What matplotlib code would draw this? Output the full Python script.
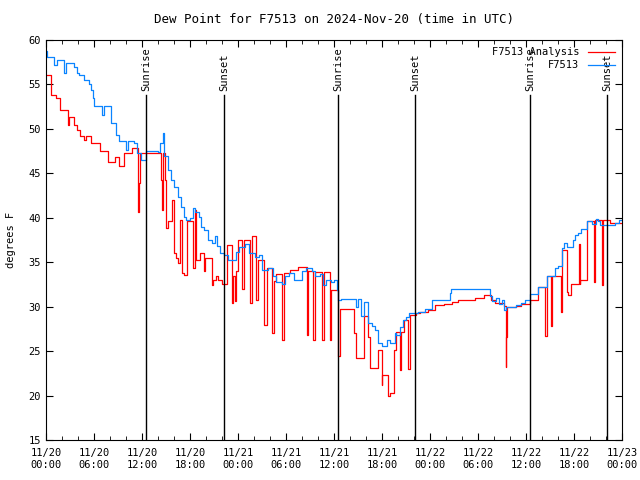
import matplotlib
matplotlib.use("Agg")
import matplotlib.pyplot as plt
from matplotlib.ticker import MultipleLocator

#Data (hours since 11/20 00:00 UTC, degrees F)
analysis_t = [0.0, 0.67, 1.2, 1.75, 2.7, 2.85, 3.5, 3.9, 4.3, 4.7, 5.0, 5.6, 6.75, 7.7, 8.6, 9.1,
              9.7, 10.8, 11.5, 11.6, 11.8, 14.4, 14.55, 14.65, 14.9, 15.05, 15.3, 15.7, 16.0,
              16.25, 16.5, 16.75, 16.95, 17.2, 17.6, 18.4, 18.6, 18.8, 19.25, 19.7, 19.9, 20.7,
              20.9, 21.3, 21.5, 21.95, 22.6, 23.2, 23.4, 23.6, 23.8, 24.0, 24.5, 24.7, 25.5,
              25.7, 26.3, 26.5, 27.3, 27.6, 28.2, 28.5, 28.7, 29.5, 29.7, 30.5, 31.5, 32.6,
              32.8, 33.4, 33.6, 34.5, 34.7, 35.5, 35.6, 36.5, 36.7, 38.5, 38.8, 39.7, 40.2,
              40.5, 41.5, 41.95, 42.05, 42.8, 43.0, 43.5, 43.8, 44.2, 44.4, 44.7, 45.3, 45.5,
              46.3, 46.75, 47.8, 48.6, 49.7, 50.7, 51.5, 53.6, 54.7, 55.6, 56.1, 57.2, 57.45,
              57.55, 57.65, 58.8, 59.4, 59.9, 60.5, 61.5, 62.4, 62.6, 63.1, 63.3, 64.4, 64.55,
              65.1, 65.3, 65.6, 66.6, 66.7, 66.8, 67.6, 68.45, 68.6, 69.45, 69.6, 70.5, 72.0]
analysis_v = [56.1, 53.8, 53.5, 52.1, 50.4, 51.3, 50.4, 49.9, 49.2, 48.75, 49.2, 48.4, 47.5, 46.3,
              46.8, 45.8, 47.3, 47.8, 40.6, 43.9, 47.3, 44.25, 40.9, 47.3, 44.25, 38.85, 39.6,
              42.0, 36.0, 35.5, 34.9, 39.75, 33.8, 33.6, 39.6, 34.4, 40.9, 35.25, 36.0, 34.0,
              35.5, 32.4, 33.0, 33.4, 33.0, 32.6, 36.9, 30.4, 33.5, 30.6, 34.0, 37.5, 32.0, 37.5,
              30.4, 37.9, 30.8, 35.25, 27.9, 34.3, 27.0, 32.9, 33.7, 26.25, 33.8, 34.1, 34.5,
              26.8, 34.0, 26.2, 33.9, 26.2, 33.9, 26.2, 31.9, 24.4, 29.7, 27.0, 24.2, 28.9, 26.6,
              23.1, 25.1, 21.2, 22.3, 19.9, 20.3, 25.1, 27.2, 22.9, 27.2, 28.5, 23.0, 29.1, 29.3,
              29.4, 29.6, 30.2, 30.3, 30.5, 30.8, 31.0, 31.3, 30.8, 30.4, 30.1, 23.25, 26.6, 30.0,
              30.1, 30.3, 30.3, 30.75, 32.2, 26.7, 33.4, 27.8, 33.4, 29.4, 36.4, 31.7, 31.3,
              32.6, 37.0, 32.6, 33.0, 39.6, 32.8, 39.75, 32.4, 39.75, 39.4, 39.4]

station_t = [0.0, 0.17, 1.0, 1.4, 2.25, 2.45, 2.6, 3.5, 3.9, 4.1, 4.7, 5.4, 5.6, 5.9, 6.0, 7.0,
             7.2, 8.1, 8.7, 8.8, 9.1, 10.0, 10.2, 11.0, 11.4, 11.9, 12.5, 14.0, 14.3, 14.6,
             14.8, 15.3, 15.6, 16.0, 16.5, 16.9, 17.2, 17.5, 18.0, 18.4, 18.6, 19.1, 19.4,
             19.8, 20.3, 20.7, 21.1, 21.4, 21.7, 22.2, 22.8, 23.7, 24.1, 24.9, 25.4, 26.1,
             26.6, 27.0, 27.8, 28.4, 28.8, 29.5, 29.9, 30.4, 31.0, 32.0, 32.5, 33.2, 33.6,
             34.2, 34.6, 35.0, 35.6, 36.0, 36.4, 36.5, 36.9, 38.7, 39.0, 39.4, 39.8, 40.3,
             40.7, 41.1, 41.5, 42.0, 42.6, 43.0, 43.6, 43.8, 44.2, 44.6, 45.0, 45.4, 46.1,
             46.5, 47.4, 48.2, 50.5, 50.6, 55.5, 55.8, 56.2, 56.6, 57.0, 57.3, 57.5, 58.7,
             59.4, 59.9, 60.5, 61.5, 62.6, 63.6, 64.0, 64.5, 64.8, 65.1, 65.9, 66.1, 66.5,
             66.9, 67.6, 68.2, 68.7, 69.0, 69.25, 71.1, 71.6, 72.0]
station_v = [58.8, 58.1, 57.2, 57.8, 56.3, 57.4, 57.4, 57.0, 56.3, 56.1, 55.5, 55.0, 54.4, 53.5,
             52.6, 51.6, 52.6, 50.7, 49.8, 49.3, 48.6, 47.6, 48.6, 48.4, 47.3, 46.5, 47.5,
             47.4, 48.4, 49.5, 46.9, 45.4, 44.3, 43.5, 42.3, 41.2, 40.1, 39.75, 40.0, 41.1,
             40.6, 40.1, 39.0, 38.6, 37.5, 37.2, 37.9, 36.8, 36.0, 35.8, 35.3, 36.2, 36.75,
             37.1, 36.0, 35.6, 35.8, 34.1, 34.3, 33.4, 32.8, 32.6, 33.4, 33.75, 33.0, 34.0,
             34.3, 34.0, 33.4, 33.7, 32.4, 33.0, 32.8, 33.0, 31.9, 30.75, 30.9, 30.0, 30.9,
             28.9, 30.5, 28.2, 27.8, 27.4, 25.9, 25.6, 26.3, 25.9, 27.0, 26.8, 27.75, 28.5,
             28.8, 29.25, 29.3, 29.45, 29.7, 30.7, 31.5, 32.0, 31.2, 30.6, 31.0, 30.3, 30.7,
             29.6, 30.0, 30.2, 30.4, 30.75, 31.4, 32.2, 33.4, 34.3, 34.6, 36.6, 37.2, 36.75,
             37.5, 38.1, 38.3, 38.7, 39.6, 39.3, 39.9, 39.6, 39.2, 39.4, 39.7, 39.7]

sun_t = [12.5, 22.25, 36.5, 46.1, 60.5, 70.1]
sun_lbl = ["Sunrise", "Sunset", "Sunrise", "Sunset", "Sunrise", "Sunset"]

xtick_lbl = ["11/20\n00:00", "11/20\n06:00", "11/20\n12:00", "11/20\n18:00",
             "11/21\n00:00", "11/21\n06:00", "11/21\n12:00", "11/21\n18:00",
             "11/22\n00:00", "11/22\n06:00", "11/22\n12:00", "11/22\n18:00",
             "11/23\n00:00"]

plt.rcParams["font.family"] = "DejaVu Sans Mono"
plt.rcParams["font.size"] = 7.5

fig = plt.figure(figsize=(6.4, 4.8), dpi=100)
ax = fig.add_axes([46/640, 40/480, 576/640, 400/480])

ax.plot(analysis_t, analysis_v, drawstyle="steps-post", color="#ff0000", lw=0.9,
        label="F7513 Analysis")
ax.plot(station_t, station_v, drawstyle="steps-post", color="#0a84ff", lw=0.9,
        label="F7513")

for t, s in zip(sun_t, sun_lbl):
    ax.plot([t, t], [15, 53.8], color="black", lw=1.0)
    ax.text(t, 54.3, s, rotation=90, ha="center", va="bottom")

ax.set_xlim(0, 72)
ax.set_ylim(15, 60)
ax.set_xticks(range(0, 73, 6))
ax.set_xticklabels(xtick_lbl)
ax.xaxis.set_minor_locator(MultipleLocator(2))
ax.yaxis.set_major_locator(MultipleLocator(5))
ax.tick_params(which="both", direction="in", top=True, right=True)
ax.tick_params(which="major", length=5)
ax.tick_params(which="minor", length=3)
ax.tick_params(axis="x", pad=6)
ax.set_ylabel("degrees F", labelpad=9)
ax.set_title("Dew Point for F7513 on 2024-Nov-20 (time in UTC)", pad=12)

leg = ax.legend(loc="upper right", frameon=False, markerfirst=False, handlelength=2.6,
                borderaxespad=0.3, labelspacing=0.3)

plt.savefig("out.png")
plt.close()
